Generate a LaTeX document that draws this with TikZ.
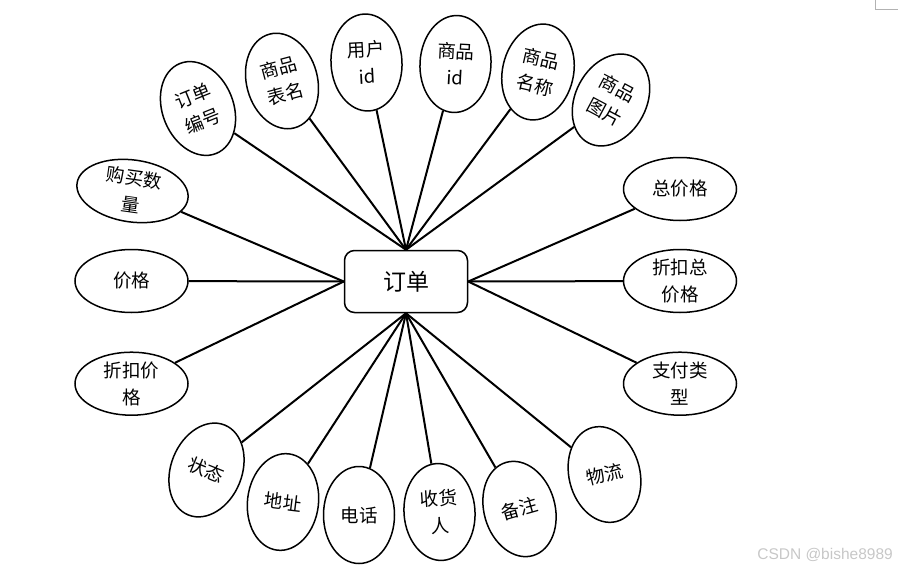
\documentclass[tikz,border=0pt]{standalone}
\usepackage{fontspec}
\newfontfamily\cjk{Noto Sans CJK SC}
\newfontfamily\wm{Liberation Sans}
\usetikzlibrary{shapes.geometric}
\begin{document}
\begin{tikzpicture}[x=1pt,y=-1pt,
 attr/.style={ellipse,draw,line width=1.5pt,inner sep=0pt,align=center,font=\cjk\fontsize{18.5}{27}\selectfont},
 tall/.style={attr,minimum width=71pt,minimum height=97pt},
 wide/.style={attr,minimum width=113pt,minimum height=63pt},
 link/.style={line width=2pt},
 ent/.style={draw,rounded corners=10pt,line width=1.5pt,minimum width=123pt,minimum height=62pt,inner sep=0pt,font=\cjk\fontsize{23}{28}\selectfont}]
\path[use as bounding box] (0,0) rectangle (898,570);
\node[ent] (o) at (406,281.5) {订单};
% top
\node[tall,rotate=22] (a1) at (198,108.5) {订单\\编号};
\node[tall,rotate=15] (a2) at (282,81) {商品\\表名};
\node[tall,rotate=3] (a3) at (366.5,62.5) {用户\\id};
\node[tall,rotate=-3] (a4) at (455.5,64) {商品\\id};
\node[tall,rotate=-13] (a5) at (538,72) {商品\\名称};
\node[tall,rotate=-28] (a6) at (611,100) {商品\\图片};
% left
\node[wide,minimum width=112pt,minimum height=62pt,rotate=-8] (b1) at (132.5,191) {购买数\\量};
\node[wide] (b2) at (131.5,281) {价格};
\node[wide] (b3) at (131.5,383.7) {折扣价\\格};
% right
\node[wide] (c1) at (680,189) {总价格};
\node[wide] (c2) at (680,281) {折扣总\\价格};
\node[wide] (c3) at (680,383.7) {支付类\\型};
% bottom
\node[tall,rotate=-22] (d1) at (206.5,470) {状态};
\node[tall,rotate=-7] (d2) at (283,502) {地址};
\node[tall] (d3) at (359,515) {电话};
\node[tall,rotate=4] (d4) at (439.5,512) {收货\\人};
\node[tall,rotate=16] (d5) at (519.5,509) {备注};
\node[tall,rotate=14] (d6) at (604.5,474.5) {物流};
% links
\foreach \n in {a1,a2,a3,a4,a5,a6} \draw[link] (\n) -- (o.north);
\foreach \n in {b1,b2,b3} \draw[link] (\n) -- (o.west);
\foreach \n in {c1,c2,c3} \draw[link] (\n) -- (o.east);
\foreach \n in {d1,d2,d3,d4,d5,d6} \draw[link] (\n) -- (o.south);
% watermark and corner mark
\node[font=\wm\fontsize{15.5}{16}\selectfont,text=black!22,anchor=east,inner sep=0pt] (wm) at (893,555) {CSDN @bishe8989};
\draw[black!30,line width=1pt] (875.5,0) -- (875.5,9) -- (898,9);
\end{tikzpicture}
\end{document}
